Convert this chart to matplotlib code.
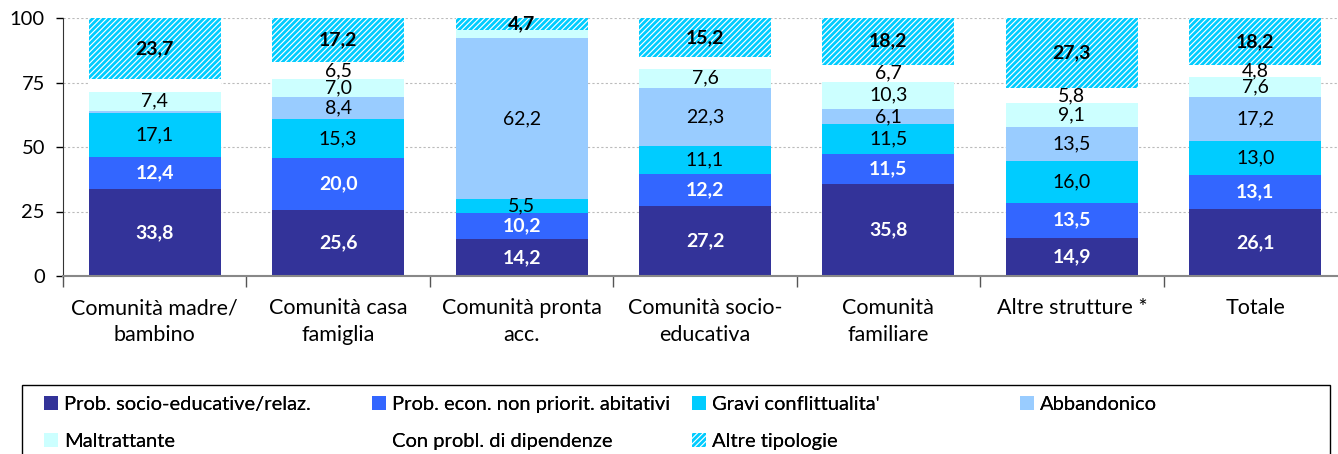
import numpy as np
import matplotlib
matplotlib.use('Agg')
import matplotlib.pyplot as plt
from matplotlib.patches import Rectangle

### data
categories = ['Comunità madre/\nbambino', 'Comunità casa\nfamiglia', 'Comunità pronta\nacc.',
              'Comunità socio-\neducativa', 'Comunità\nfamiliare', 'Altre strutture *', 'Totale']
series_names = ['Prob. socio-educative/relaz.', 'Prob. econ. non priorit. abitativi',
                "Gravi conflittualita'", 'Abbandonico', 'Maltrattante',
                'Con probl. di dipendenze', 'Altre tipologie']
socio = [33.8, 25.6, 14.2, 27.2, 35.8, 14.9, 26.1]
econ = [12.4, 20.0, 10.2, 12.2, 11.5, 13.5, 13.1]
gravi = [17.1, 15.3, 5.5, 11.1, 11.5, 16.0, 13.0]
abband = [0.8, 8.4, 62.2, 22.3, 6.1, 13.5, 17.2]
maltr = [7.4, 7.0, 3.2, 7.6, 10.3, 9.1, 7.6]
dipend = [4.8, 6.5, 0.0, 4.4, 6.7, 5.8, 4.8]
altre = [23.7, 17.2, 4.7, 15.2, 18.2, 27.3, 18.2]
# segments shown without a number in the original
hidden = {(3, 0), (5, 0), (4, 2), (5, 2), (5, 3)}

colors = ['#333399', '#3366FF', '#00CCFF', '#99CCFF', '#CCFFFF', '#FFFFFF', '#FFFFFF']

plt.rcParams['font.family'] = ['Lato', 'DejaVu Sans']
plt.rcParams['hatch.linewidth'] = 2.0


def fmt(v):
    return '{:.1f}'.format(v).replace('.', ',')


def main():
    W, H = 1338, 454
    fig = plt.figure(figsize=(W / 100, H / 100), dpi=100)
    ax = fig.add_axes([63 / W, 1 - 276 / H, 1284 / W, 258 / H])

    data = [socio, econ, gravi, abband, maltr, dipend, altre]
    x = np.arange(len(categories))
    bottom = np.zeros(len(categories))
    handles = []
    for i, vals in enumerate(data):
        vals = np.array(vals)
        if i == 6:
            b = ax.bar(x, vals, 0.72, bottom=bottom, color='white', edgecolor='#00CCFF',
                       hatch='//////', linewidth=0, zorder=2)
        else:
            b = ax.bar(x, vals, 0.72, bottom=bottom, color=colors[i], linewidth=0, zorder=2)
        handles.append(b)
        for j, v in enumerate(vals):
            if (i, j) in hidden or v == 0:
                continue
            yc = bottom[j] + v / 2
            if i < 2:
                ax.text(j, yc, fmt(v), ha='center', va='center', color='white',
                        fontsize=14, fontweight='bold', zorder=3)
            elif i == 6:
                ax.text(j, yc, fmt(v), ha='center', va='center', color='black',
                        fontsize=14, fontweight='bold', zorder=3)
            else:
                ax.text(j, yc, fmt(v), ha='center', va='center', color='black',
                        fontsize=14, zorder=3)
        bottom += vals

    ax.set_ylim(0, 100)
    ax.set_xlim(-0.5, len(categories) - 0.5)
    ax.set_yticks([0, 25, 50, 75, 100])
    ax.tick_params(axis='y', labelsize=14.5, length=5, width=1, pad=8)
    ax.yaxis.grid(True, linestyle=(0, (2, 2)), color='#BBBBBB', linewidth=0.8, zorder=0)
    ax.set_axisbelow(True)

    ax.set_xticks(x)
    ax.set_xticklabels(categories, fontsize=15.5, linespacing=1.4)
    ax.tick_params(axis='x', which='major', length=0, pad=16)
    ax.set_xticks(np.arange(len(categories) + 1) - 0.5, minor=True)
    ax.tick_params(axis='x', which='minor', length=8, width=1, color='#555555')

    for s in ['top', 'right']:
        ax.spines[s].set_visible(False)
    ax.spines['bottom'].set_color('#888888')
    ax.spines['bottom'].set_linewidth(1.5)
    ax.spines['left'].set_color('#333333')

    # legend: frame plus four fixed-width columns, filled row by row
    fig.add_artist(Rectangle((22 / W, -0.05), 1308 / W, 0.05 + (H - 385) / H,
                             transform=fig.transFigure, facecolor='none',
                             edgecolor='black', linewidth=1.0))
    col_x = [38, 366, 686, 1014]
    cols = [[0, 4], [1, 5], [2, 6], [3]]
    for cx, idx in zip(col_x, cols):
        leg = fig.legend([handles[k] for k in idx], [series_names[k] for k in idx],
                         loc='upper left', bbox_to_anchor=(cx / W, 1 - 390 / H),
                         fontsize=14.5, handlelength=0.7, handleheight=0.7,
                         handletextpad=0.3, labelspacing=1.0, borderpad=0.3,
                         borderaxespad=0, frameon=False)
        fig.add_artist(leg)

    fig.savefig('out.png', dpi=100)


if __name__ == '__main__':
    main()
